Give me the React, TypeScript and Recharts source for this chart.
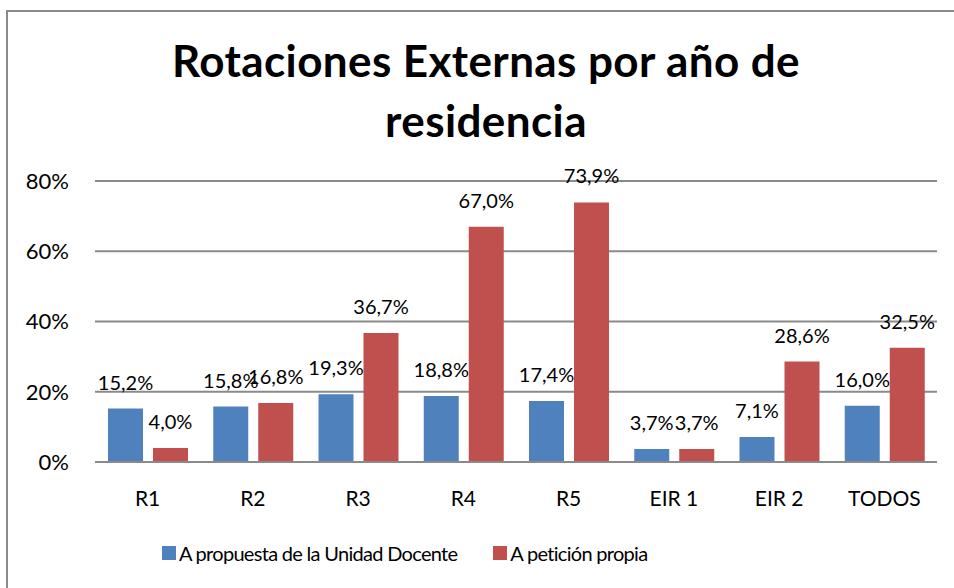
import React from 'react'
import { BarChart, Bar, XAxis, YAxis, CartesianGrid, LabelList } from 'recharts'

const categories = ['R1', 'R2', 'R3', 'R4', 'R5', 'EIR 1', 'EIR 2', 'TODOS']
const propuestaUnidad = [15.2, 15.8, 19.3, 18.8, 17.4, 3.7, 7.1, 16.0]
const peticionPropia = [4.0, 16.8, 36.7, 67.0, 73.9, 3.7, 28.6, 32.5]
const yTicks = [0, 20, 40, 60, 80]

const seriesNames = ['A propuesta de la Unidad Docente', 'A petición propia']
const colors = ['#4F81BD', '#C0504D']

const data = categories.map((name, i) => ({
  name,
  propuesta: propuestaUnidad[i],
  peticion: peticionPropia[i],
}))

const FONT = 'Lato, "Open Sans", sans-serif'

const pct = (v: any) => `${Number(v).toFixed(1).replace('.', ',')}%`

export default function App() {
  return (
    <div style={{ position: 'absolute', left: 0, top: 0, width: 954, height: 588, background: '#fff', fontFamily: FONT, overflow: 'hidden' }}>
      {/* chart border */}
      <div style={{ position: 'absolute', left: 6, top: 10, width: 1000, height: 1000, border: '2px solid #8a8a8a' }} />

      <div style={{ position: 'absolute', left: 86, top: 30, width: 800, textAlign: 'center', fontSize: 44, fontWeight: 700, lineHeight: '60px', letterSpacing: 0.4, color: '#000' }}>
        Rotaciones Externas por año de
        <br />
        residencia
      </div>

      <div style={{ position: 'absolute', left: 0, top: 0 }}>
        <BarChart
          width={954}
          height={588}
          data={data}
          margin={{ top: 181, right: 17, bottom: 86, left: 0 }}
          barCategoryGap={13}
          barGap={10}
        >
          <CartesianGrid vertical={false} stroke="#8a8a8a" strokeWidth={2} />
          <XAxis
            dataKey="name"
            height={40}
            tickSize={0}
            tickMargin={29}
            axisLine={{ stroke: '#8a8a8a', strokeWidth: 2 }}
            tick={{ fontSize: 21, fill: '#000', fontFamily: FONT }}
          />
          <YAxis
            width={95}
            domain={[0, 80]}
            ticks={yTicks}
            tickFormatter={(v) => `${v}%`}
            tickSize={0}
            tickMargin={26}
            axisLine={false}
            tick={{ fontSize: 22, fill: '#000', fontFamily: FONT }}
          />
          <Bar dataKey="propuesta" fill={colors[0]} isAnimationActive={false}>
            <LabelList dataKey="propuesta" position="top" offset={19} formatter={pct} style={{ fontSize: 20, fill: '#000', fontFamily: FONT }} />
          </Bar>
          <Bar dataKey="peticion" fill={colors[1]} isAnimationActive={false}>
            <LabelList dataKey="peticion" position="top" offset={19} formatter={pct} style={{ fontSize: 20, fill: '#000', fontFamily: FONT }} />
          </Bar>
        </BarChart>
      </div>

      {/* legend */}
      <div style={{ position: 'absolute', left: 162, top: 541, display: 'flex', alignItems: 'center', fontSize: 20, letterSpacing: -0.7, color: '#000', whiteSpace: 'nowrap' }}>
        <span style={{ width: 14, height: 14, background: colors[0], display: 'inline-block', marginRight: 3 }} />
        <span>{seriesNames[0]}</span>
        <span style={{ width: 14, height: 14, background: colors[1], display: 'inline-block', marginLeft: 36, marginRight: 3 }} />
        <span>{seriesNames[1]}</span>
      </div>
    </div>
  )
}
